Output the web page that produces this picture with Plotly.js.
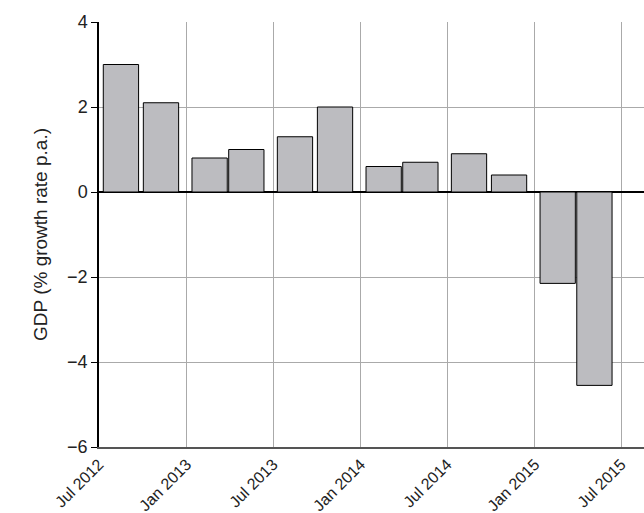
<!DOCTYPE html>
<html>
<head>
<script src="https://cdn.plot.ly/plotly-3.0.1.min.js"></script>
<style>body{margin:0;} #chart{width:644px;height:513px;}</style>
</head>
<body>
<div id="chart"></div>
<script>
// Quarterly GDP growth, bar centres
const quarters = ['2012-08-16', '2012-11-08', '2013-02-18', '2013-05-06',
    '2013-08-16', '2013-11-08', '2014-02-18', '2014-05-06',
    '2014-08-16', '2014-11-08', '2015-02-18', '2015-05-06'];
const growth = [3.0, 2.1, 0.8, 1.0, 1.3, 2.0, 0.6, 0.7, 0.9, 0.4, -2.15, -4.55];
const tickDates = ['2012-07-01', '2013-01-01', '2013-07-01', '2014-01-01',
    '2014-07-01', '2015-01-01', '2015-07-01'];
const tickLabels = ['Jul 2012', 'Jan 2013', 'Jul 2013', 'Jan 2014',
    'Jul 2014', 'Jan 2015', 'Jul 2015'];

const dayMs = 24 * 3600 * 1000;

Plotly.newPlot('chart', [{
    type: 'bar',
    x: quarters,
    y: growth,
    width: 74 * dayMs,
    marker: {color: '#bcbcc0', line: {color: '#000', width: 1}}
}], {
    width: 644,
    height: 513,
    margin: {l: 99, r: 0, t: 22, b: 66},
    paper_bgcolor: '#fff',
    plot_bgcolor: '#fff',
    font: {family: 'Liberation Sans, Arial, sans-serif', size: 18, color: '#222'},
    showlegend: false,
    xaxis: {
        type: 'date',
        range: ['2012-07-01', '2015-08-18'],
        tickvals: tickDates,
        ticktext: tickLabels,
        tickangle: -45,
        tickfont: {size: 16},
        showgrid: true,
        gridcolor: '#aaa',
        gridwidth: 1,
        showline: true,
        linecolor: '#555',
        linewidth: 1.5,
        zeroline: false,
        ticks: ''
    },
    yaxis: {
        range: [-6, 4],
        tickvals: [-6, -4, -2, 0, 2, 4],
        ticktext: ['\u22126', '\u22124', '\u22122', '0', '2', '4'],
        title: {text: 'GDP (% growth rate p.a.)', font: {size: 19}, standoff: 14},
        showgrid: true,
        gridcolor: '#aaa',
        showline: true,
        linecolor: '#000',
        linewidth: 1.5,
        ticks: 'outside',
        ticklen: 6,
        tickcolor: '#000',
        zeroline: true,
        zerolinecolor: '#000',
        zerolinewidth: 1.5
    }
}, {displayModeBar: false});
</script>
</body>
</html>
